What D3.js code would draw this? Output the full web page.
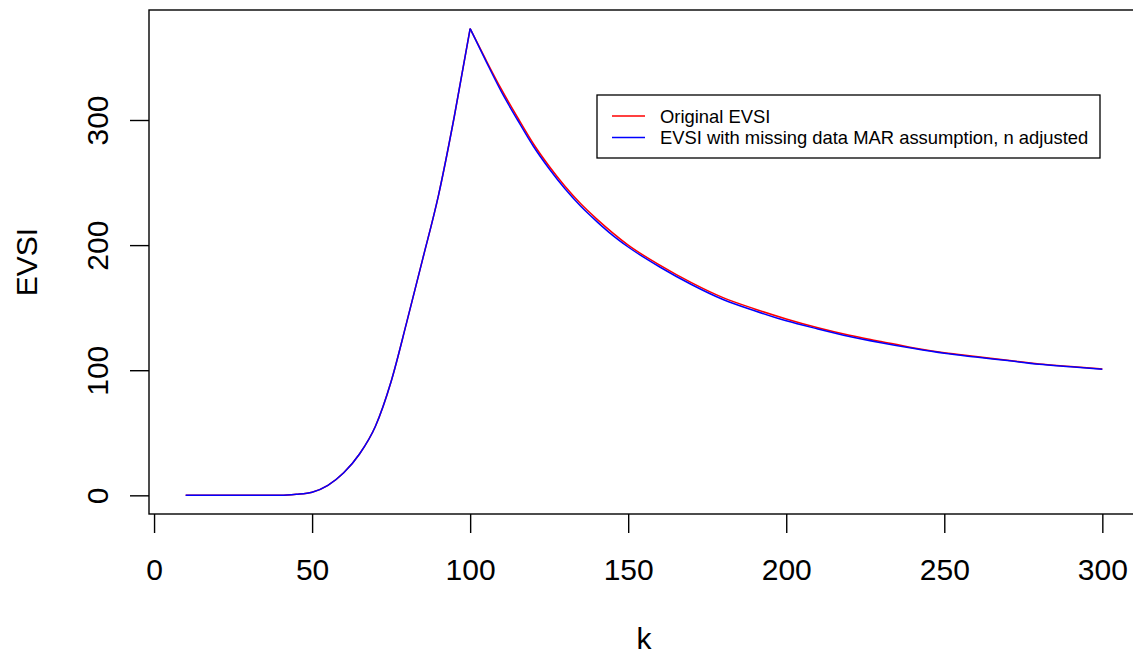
<!DOCTYPE html>
<html>
<head>
<meta charset="utf-8">
<script src="https://cdn.jsdelivr.net/npm/d3@7"></script>
<style>
  html, body { margin: 0; padding: 0; background: #fff; }
  svg { display: block; }
  text { font-family: "Liberation Sans", Arial, sans-serif; fill: #000; }
</style>
</head>
<body>
<svg id="chart" width="1133" height="655"></svg>
<script>
// k values at which EVSI was evaluated
const kValues = [10, 15, 20, 25, 30, 35, 40, 45, 50, 55, 60, 65, 70, 75, 80, 85, 90, 95, 100,
  105, 110, 115, 120, 125, 130, 135, 140, 145, 150, 160, 170, 180, 190, 200,
  210, 220, 230, 240, 250, 260, 270, 280, 290, 300];

// Original EVSI
const evsiOriginal = [0, 0, 0, 0, 0, 0, 0, 0.8, 2.5, 8, 18, 33, 55, 91, 139, 189, 240, 303, 373,
  348, 324, 302, 281, 263, 247, 233, 221, 210, 200, 184, 170, 158, 149, 141,
  134, 128, 123, 118, 114, 111, 108, 105, 103, 101];

// EVSI with missing data (MAR assumption), n adjusted
const evsiMAR = [0, 0, 0, 0, 0, 0, 0, 0.8, 2.5, 8, 18, 33, 55, 91, 139, 189, 240, 303, 373,
  347, 322, 300, 279, 261, 245, 231, 219, 208, 198.5, 182.5, 168.5, 156.5, 147.5, 139.5,
  133, 127, 122, 117.5, 113.5, 110.5, 107.7, 104.8, 102.8, 100.8];

// threshold where EVSI peaks (kink in the curve)
const kPeak = 100;

const xTicks = [0, 50, 100, 150, 200, 250, 300];
const yTicks = [0, 100, 200, 300];

const seriesNames = ["Original EVSI", "EVSI with missing data MAR assumption, n adjusted"];
const seriesColors = ["#ff0000", "#0000ff"];

const svg = d3.select("#chart");

// plot region (R-style 4% padding around the data range)
const kMin = d3.min(kValues), kMax = d3.max(kValues);
const vMin = 0, vMax = d3.max(evsiOriginal);
const kPad = (kMax - kMin) * 0.04, vPad = (vMax - vMin) * 0.04;

const x = d3.scaleLinear().domain([kMin - kPad, kMax + kPad]).range([149, 1139]);
const y = d3.scaleLinear().domain([vMin - vPad, vMax + vPad]).range([514, 10]);

const fontTick = 30;

// plot box
svg.append("rect")
  .attr("x", x.range()[0]).attr("y", y.range()[1])
  .attr("width", x.range()[1] - x.range()[0])
  .attr("height", y.range()[0] - y.range()[1])
  .attr("fill", "none").attr("stroke", "#000").attr("stroke-width", 1.4);

// bottom axis
const xAxis = svg.append("g")
  .attr("transform", `translate(0,${y.range()[0]})`)
  .call(d3.axisBottom(x).tickValues(xTicks).tickSize(19).tickPadding(0).tickFormat(d3.format("d")));
xAxis.select(".domain").remove();
xAxis.selectAll("line").attr("stroke", "#000").attr("stroke-width", 1.4);
xAxis.selectAll("text")
  .attr("y", 66).attr("dy", null)
  .style("font-size", fontTick + "px")
  .style("font-family", "'Liberation Sans', Arial, sans-serif")
  .attr("fill", "#000");

// left axis with rotated labels
const yAxis = svg.append("g")
  .attr("transform", `translate(${x.range()[0]},0)`)
  .call(d3.axisLeft(y).tickValues(yTicks).tickSize(19).tickFormat(d3.format("d")));
yAxis.select(".domain").remove();
yAxis.selectAll("line").attr("stroke", "#000").attr("stroke-width", 1.4);
yAxis.selectAll("text")
  .attr("x", null).attr("dy", null)
  .attr("text-anchor", "middle")
  .attr("transform", "translate(-41,0) rotate(-90)")
  .style("font-size", fontTick + "px")
  .style("font-family", "'Liberation Sans', Arial, sans-serif")
  .attr("fill", "#000");

// axis titles
svg.append("text")
  .attr("x", (x.range()[0] + x.range()[1]) / 2).attr("y", 649)
  .attr("text-anchor", "middle")
  .style("font-size", "30px")
  .text("k");

svg.append("text")
  .attr("transform", `translate(37,${(y.range()[0] + y.range()[1]) / 2}) rotate(-90)`)
  .attr("text-anchor", "middle")
  .style("font-size", "30px")
  .text("EVSI");

// series lines: rising and falling branches are smoothed separately so the
// kink at the peak stays sharp
const line = d3.line()
  .x(d => x(d[0]))
  .y(d => y(d[1]))
  .curve(d3.curveMonotoneX);

[evsiOriginal, evsiMAR].forEach((vals, i) => {
  const pts = kValues.map((k, j) => [k, vals[j]]);
  const branches = [pts.filter(p => p[0] <= kPeak), pts.filter(p => p[0] >= kPeak)];
  branches.forEach(b => {
    svg.append("path")
      .datum(b)
      .attr("fill", "none")
      .attr("stroke", seriesColors[i])
      .attr("stroke-width", 1.5)
      .attr("stroke-linejoin", "miter")
      .attr("d", line);
  });
});

// legend
const legend = svg.append("g").attr("transform", "translate(597,95)");
legend.append("rect")
  .attr("width", 503).attr("height", 63)
  .attr("fill", "#fff").attr("stroke", "#000").attr("stroke-width", 1.3);
seriesNames.forEach((name, i) => {
  const yy = 21 + i * 21.5;
  legend.append("line")
    .attr("x1", 15).attr("x2", 48).attr("y1", yy).attr("y2", yy)
    .attr("stroke", seriesColors[i]).attr("stroke-width", 1.6);
  legend.append("text")
    .attr("x", 63).attr("y", yy + 6.5)
    .style("font-size", "18.4px")
    .text(name);
});
</script>
</body>
</html>
